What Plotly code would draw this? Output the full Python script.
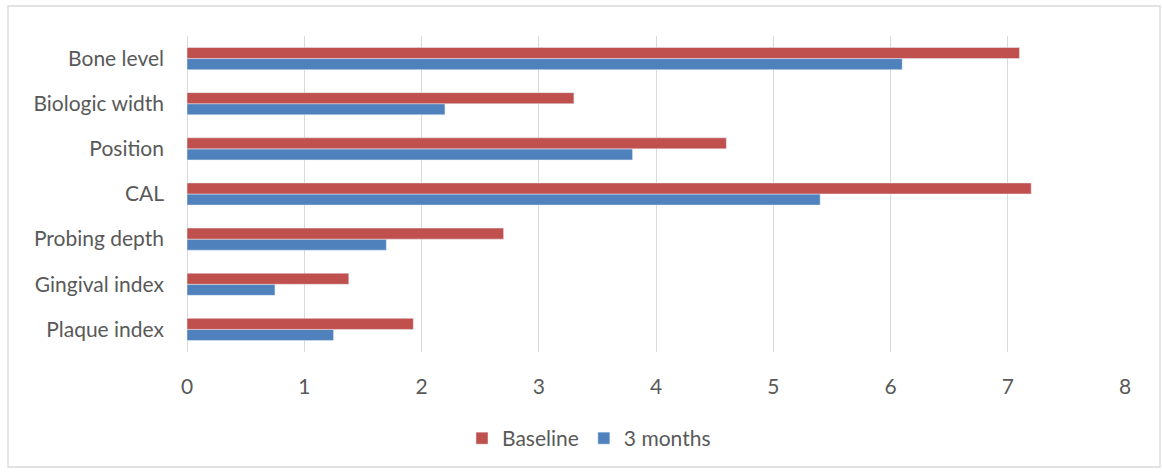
import plotly.graph_objects as go

categories = ["Plaque index", "Gingival index", "Probing depth", "CAL", "Position", "Biologic width", "Bone level"]
baseline = [1.93, 1.38, 2.7, 7.2, 4.6, 3.3, 7.1]
three_months = [1.25, 0.75, 1.7, 5.4, 3.8, 2.2, 6.1]
x_ticks = [0, 1, 2, 3, 4, 5, 6, 7, 8]

FONT = "Lato, Carlito, Calibri, sans-serif"
FS = 21
W, H = 1162, 472
L, R, T, B = 187, 37, 36, 120

fig = go.Figure()
fig.add_trace(go.Bar(y=categories, x=three_months, orientation="h", name="3 months",
                     marker=dict(color="#4F81BD"), legendrank=2))
fig.add_trace(go.Bar(y=categories, x=baseline, orientation="h", name="Baseline",
                     marker=dict(color="#C0504D"), legendrank=1))

pw, ph = W - L - R, H - T - B
def px_to_paper_x(px):
    return (px - L) / pw
def px_to_paper_y(py):
    return (H - B - py) / ph

fig.add_shape(type="rect", xref="paper", yref="paper",
              x0=px_to_paper_x(8), x1=px_to_paper_x(1160),
              y0=px_to_paper_y(467), y1=px_to_paper_y(6),
              line=dict(color="#D9D9D9", width=1.3), fillcolor="rgba(0,0,0,0)", layer="below")

fig.update_layout(
    width=W, height=H,
    margin=dict(l=L, r=R, t=T, b=B),
    barmode="group", bargap=0.51, bargroupgap=0,
    plot_bgcolor="white", paper_bgcolor="white",
    font=dict(family=FONT, size=FS, color="#595959"),
    xaxis=dict(range=[0, 8], tickvals=x_ticks, showgrid=True, gridcolor="#D9D9D9", gridwidth=1.3,
               zeroline=True, zerolinecolor="#D9D9D9", zerolinewidth=1.3,
               showline=False, ticks="", tickfont=dict(size=FS, color="#595959"), ticklabelstandoff=20),
    yaxis=dict(showgrid=False, showline=False, ticks="", ticklabelstandoff=22,
               tickfont=dict(size=FS, color="#595959")),
    legend=dict(orientation="h", x=px_to_paper_x(589), xanchor="center", y=px_to_paper_y(418), yanchor="top",
                font=dict(size=FS, color="#595959"), itemwidth=30, tracegroupgap=0),
    showlegend=True,
)

fig.write_html("out.html")
